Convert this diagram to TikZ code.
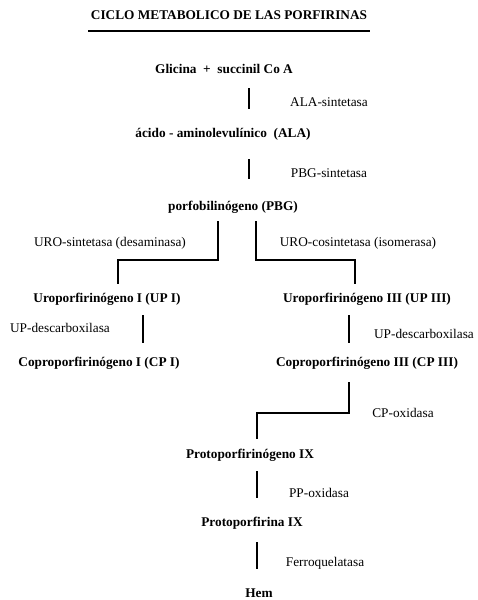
\documentclass[tikz,border=0pt]{standalone}
\usepackage{fontspec}
\setmainfont{Liberation Serif}
\usepackage{tikz}
\tikzset{
  node-title/.style={font=\fontsize{13.3}{16}\selectfont\bfseries,inner sep=0pt},
  node-met/.style={font=\fontsize{13.3}{16}\selectfont\bfseries,inner sep=0pt,
    text height=9pt,text depth=3pt},
  node-enz/.style={font=\fontsize{13.3}{16}\selectfont,inner sep=0pt,
    text height=9pt,text depth=3pt},
  link/.style={line width=1.5pt,draw=black},
  rule/.style={line width=2.4pt,draw=black},
}

\begin{document}
\begin{tikzpicture}[x=1pt,y=-1pt]
  \useasboundingbox (0,0) rectangle (477,600);
  % titulo
  \node[node-title] (title) at (229,15) {CICLO METABOLICO DE LAS PORFIRINAS};
  \coordinate (ruleL) at (88,31);
  \coordinate (ruleR) at (370,31);
  \draw[rule] (ruleL) -- (ruleR);

  % metabolitos
  \node[node-met] (gly)   at (224,70)  {Glicina \ + \ succinil Co A};
  \node[node-met] (ala)   at (223,134) {ácido - aminolevulínico \ (ALA)};
  \node[node-met] (pbg)   at (233,207) {porfobilinógeno (PBG)};
  \node[node-met] (upI)   at (107,299) {Uroporfirinógeno I (UP I)};
  \node[node-met] (upIII) at (367,299) {Uroporfirinógeno III (UP III)};
  \node[node-met] (cpI)   at (99,363)  {Coproporfirinógeno I (CP I)};
  \node[node-met] (cpIII) at (367,363) {Coproporfirinógeno III (CP III)};
  \node[node-met] (ppgen) at (250,455) {Protoporfirinógeno IX};
  \node[node-met] (ppina) at (252,523) {Protoporfirina IX};
  \node[node-met] (hem)   at (259,594) {Hem};

  % enzimas
  \node[node-enz] (e-alas)  at (329,103) {ALA-sintetasa};
  \node[node-enz] (e-pbgs)  at (329,174) {PBG-sintetasa};
  \node[node-enz] (e-uros)  at (110,243) {URO-sintetasa (desaminasa)};
  \node[node-enz] (e-urocs) at (358,243) {URO-cosintetasa (isomerasa)};
  \node[node-enz] (e-updL)  at (60,329)  {UP-descarboxilasa};
  \node[node-enz] (e-updR)  at (424,335) {UP-descarboxilasa};
  \node[node-enz] (e-cpox)  at (403,414) {CP-oxidasa};
  \node[node-enz] (e-ppox)  at (319,494) {PP-oxidasa};
  \node[node-enz] (e-ferro) at (325,563) {Ferroquelatasa};

  % puntos de los trazos
  \coordinate (gly-o)   at (249,88);
  \coordinate (ala-i)   at (249,109);
  \coordinate (ala-o)   at (249,159);
  \coordinate (pbg-i)   at (249,179);
  \coordinate (pbg-oL)  at (218,221);
  \coordinate (pbg-oR)  at (256,221);
  \coordinate (upI-i)   at (118,284);
  \coordinate (upIII-i) at (355,284);
  \coordinate (upI-o)   at (143,315);
  \coordinate (cpI-i)   at (143,343);
  \coordinate (upIII-o) at (349,315);
  \coordinate (cpIII-i) at (349,343);
  \coordinate (cpIII-o) at (349,382);
  \coordinate (ppgen-i) at (257,439);
  \coordinate (ppgen-o) at (257,471);
  \coordinate (ppina-i) at (257,498);
  \coordinate (ppina-o) at (257,542);
  \coordinate (hem-i)   at (257,569);

  \draw[link] (gly-o) -- (ala-i);
  \draw[link] (ala-o) -- (pbg-i);
  \draw[link] (pbg-oL) -- ++(0,39) -| (upI-i);
  \draw[link] (pbg-oR) -- ++(0,39) -| (upIII-i);
  \draw[link] (upI-o) -- (cpI-i);
  \draw[link] (upIII-o) -- (cpIII-i);
  \draw[link] (cpIII-o) -- ++(0,31) -| (ppgen-i);
  \draw[link] (ppgen-o) -- (ppina-i);
  \draw[link] (ppina-o) -- (hem-i);
\end{tikzpicture}
\end{document}
